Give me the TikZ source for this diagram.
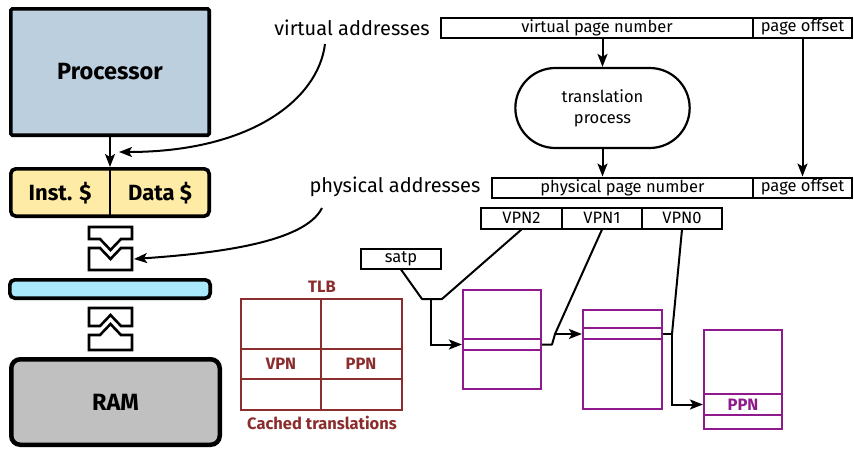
\documentclass[tikz,border=0pt]{standalone}
\usepackage{fontspec}
\setmainfont{Fira Sans}
\usetikzlibrary{shapes.misc,arrows.meta}
\definecolor{procblue}{HTML}{BCCFDF}
\definecolor{cacheyel}{HTML}{FDEBA6}
\definecolor{buscyan}{HTML}{A9E9FB}
\definecolor{ramgray}{HTML}{C0C0C0}
\definecolor{tlbred}{HTML}{8B2D2D}
\definecolor{ptpurple}{HTML}{8E1A8E}
\begin{document}
\begin{tikzpicture}[x=1pt,y=-1pt,
  conn/.style={line width=2pt},
  arr/.style={conn,-{Stealth[length=13pt,width=10pt,inset=3pt]}},
  biglabel/.style={font=\fontsize{20}{22}\selectfont},
  small/.style={font=\fontsize{16.5}{21}\selectfont},
  cell/.style={draw, line width=2pt, inner sep=0pt, minimum height=20, small},
  hw/.style={draw, line width=3.6pt, rounded corners=5pt, inner sep=0pt, font=\bfseries\fontsize{23.5}{25}\selectfont},
  ptab/.style={draw=ptpurple, line width=2.2pt, inner sep=0pt},
  tlbline/.style={draw=tlbred, line width=2.2pt},
  tlbtext/.style={text=tlbred, font=\bfseries\fontsize{16.5}{18}\selectfont},
  glyph/.style={draw, line width=2.6pt, fill=white, line join=miter}
]
\useasboundingbox (0,0) rectangle (854,450);

% hardware column
\node[hw, rounded corners=1.5pt, fill=procblue, minimum width=198.4, minimum height=126.4] (proc) at (110,72) {Processor};
\node[hw, fill=cacheyel, minimum width=198.4, minimum height=47.4] (cache) at (110,192.5) {};
\draw[line width=1.8pt] (cache.north) -- (cache.south);
\node[font=\bfseries\fontsize{22}{24}\selectfont] (inst) at (60,193) {Inst. \$};
\node[font=\bfseries\fontsize{22}{24}\selectfont] (data) at (160,193) {Data \$};
\node[hw, fill=buscyan, minimum width=200.4, minimum height=18.4] (bus) at (110,289) {};
\node[hw, line width=4.5pt, rounded corners=9pt, fill=ramgray, minimum width=208.5, minimum height=85.5] (ram) at (115.5,402) {RAM};
\draw[arr] (proc.south) -- (cache.north);

% switch glyphs
\draw[glyph] (89,227) -- (132,227) -- (132,239) -- (121,239) -- (110.5,250) -- (100,239) -- (89,239) -- cycle;
\draw[glyph] (89,248) -- (100,248) -- (110.5,259) -- (121,248) -- (132,248) -- (132,270) -- (89,270) -- cycle;
\draw[glyph] (89,308) -- (132,308) -- (132,326) -- (121,326) -- (110.5,315) -- (100,326) -- (89,326) -- cycle;
\draw[glyph] (89,335) -- (100,335) -- (110.5,324) -- (121,335) -- (132,335) -- (132,350) -- (89,350) -- cycle;
\coordinate (glyphin) at (134,259);

% address labels and curves
\node[biglabel] (vaddr) at (352,28) {virtual addresses};
\node[biglabel] (paddr) at (395,187) {physical addresses};
\coordinate (vcs) at (325,44);
\coordinate (vce) at (119,152);
\draw[arr] (vcs) .. controls (318,100) and (250,152) .. (vce);
\coordinate (pcs) at (322,208);
\draw[arr] (pcs) .. controls (305,242) and (220,253) .. (glyphin);

% virtual address bar
\node[cell, minimum width=312] (vpn) at (597,27.5) {virtual page number};
\node[cell, minimum width=99] (voff) at (802.5,27.5) {page offset};
\node[draw, line width=2.2pt, rounded rectangle, minimum width=181, minimum height=80, align=center, small] (stad) at (602.5,108) {translation\\process};
\node[cell, minimum width=261] (ppn) at (622.5,187.5) {physical page number};
\node[cell, minimum width=99] (poff) at (802.5,187.5) {page offset};
\draw[arr] (stad.north |- vpn.south) -- (stad.north);
\draw[arr] (stad.south) -- (stad.south |- ppn.north);
\draw[arr] (voff.south) -- (poff.north);

% VPN fields
\node[cell, minimum width=81, minimum height=21] (vpn2) at (521.5,218) {VPN2};
\node[cell, minimum width=80, minimum height=21] (vpn1) at (602,218) {VPN1};
\node[cell, minimum width=80, minimum height=21] (vpn0) at (682,218) {VPN0};
\node[cell, minimum width=80, minimum height=20] (satp) at (401,258.5) {satp};

% TLB
\node[tlbtext] (tlbl) at (322,287) {TLB};
\draw[tlbline] (241,299) rectangle (402,410);
\draw[tlbline] (321,299) -- (321,410);
\draw[tlbline] (241,349) -- (402,349);
\draw[tlbline] (241,379) -- (402,379);
\node[tlbtext] (tvpn) at (281,364) {VPN};
\node[tlbtext] (tppn) at (361,364) {PPN};
\node[tlbtext] (tcap) at (322,423) {Cached translations};

% page tables
\node[ptab, minimum width=78, minimum height=99] (pt1) at (502,339.5) {};
\draw[ptab] (pt1.west |- 0,339) -- (pt1.east |- 0,339);
\draw[ptab] (pt1.west |- 0,350) -- (pt1.east |- 0,350);
\node[ptab, minimum width=79, minimum height=99] (pt2) at (622.5,359.5) {};
\draw[ptab] (pt2.west |- 0,328) -- (pt2.east |- 0,328);
\draw[ptab] (pt2.west |- 0,339) -- (pt2.east |- 0,339);
\node[ptab, minimum width=78, minimum height=99] (pt3) at (743,379.5) {};
\draw[ptab] (pt3.west |- 0,394) -- (pt3.east |- 0,394);
\draw[ptab] (pt3.west |- 0,415) -- (pt3.east |- 0,415);
\node[text=ptpurple, font=\bfseries\fontsize{16.5}{18}\selectfont] (pppn) at (743,404.5) {PPN};

% walk connectors
\coordinate (sj) at (422,299);
\coordinate (vj) at (442,299);
\coordinate (dj) at (431,299);
\draw[conn, line join=round] (satp.south) -- (sj) -- (vj) -- (vpn2.south);
\draw[arr] (dj) |- (pt1.west |- 0,344.5);
\coordinate (k1) at (552,344.5);
\coordinate (k2) at (555,334);
\draw[conn, line join=round] (pt1.east |- k1) -- (k1) -- (k2);
\draw[conn] (vpn1.south) -- (k2);
\draw[arr] (k2) -- (pt2.west |- k2);
\coordinate (k3) at (672,334);
\draw[conn] (pt2.east |- k3) -- (k3);
\draw[conn] (vpn0.south) -- (k3);
\draw[arr] (k3) |- (pt3.west |- 0,404.5);
\end{tikzpicture}
\end{document}
